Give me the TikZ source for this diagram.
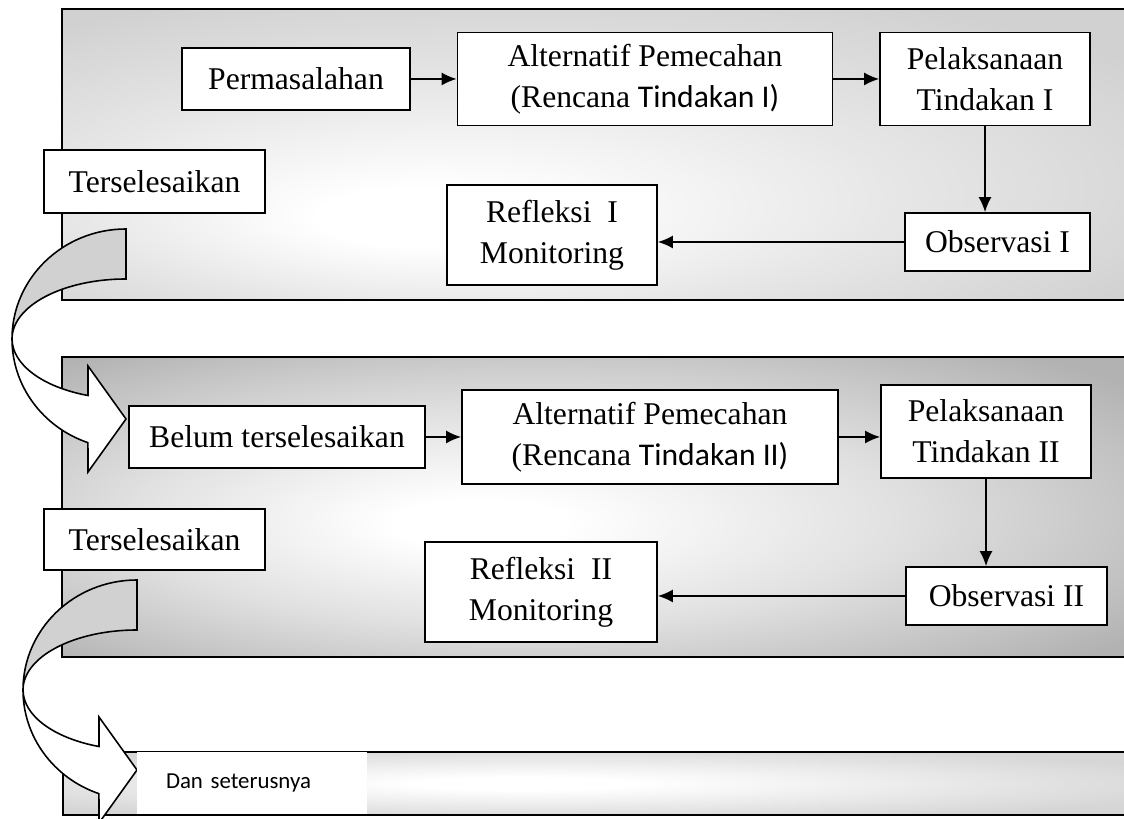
\documentclass[tikz,border=0pt]{standalone}
\usepackage{fontspec}
\setmainfont{Liberation Serif}
\newfontfamily\calibri{Carlito}
\usetikzlibrary{positioning,shapes,arrows,arrows.meta,calc}

% soft grey glow of the three cycle panels
\pgfdeclareradialshading{glowtop}{\pgfpoint{-9bp}{-12bp}}{color(0bp)=(white); color(5bp)=(white); color(20bp)=(black!10); color(34bp)=(black!18); color(50bp)=(black!18)}
\pgfdeclareradialshading{glowmid}{\pgfpoint{-6bp}{-3bp}}{color(0bp)=(white); color(4bp)=(white); color(18bp)=(black!12); color(34bp)=(black!30); color(50bp)=(black!30)}
\pgfdeclareradialshading{glowbot}{\pgfpoint{-4bp}{0bp}}{color(0bp)=(white); color(5bp)=(white); color(30bp)=(black!16); color(50bp)=(black!16)}

\begin{document}
\begin{tikzpicture}[
        box/.style={rectangle, draw, line width=1pt, fill=white, align=center, inner sep=1pt, font=\fontsize{18}{23.5}\selectfont},
        panel/.style={draw, line width=1.1pt},
        arrow/.style={-{Latex[length=0.3cm, width=0.26cm]}, line width=0.9pt},
        backband/.style={draw, line width=0.9pt, fill=black!18},
        frontband/.style={draw, line width=0.9pt, fill=white}
    ]
    \useasboundingbox (0,0) rectangle (22.48,16.38);
    \clip (0,0) rectangle (22.48,16.38);

    % Panels - one per cycle
    \shadedraw[panel, shading=glowtop] (1.24,10.38) rectangle (22.7,16.20);
    \shadedraw[panel, shading=glowmid] (1.24,3.24) rectangle (22.7,9.24);
    \shadedraw[panel, shading=glowbot] (1.26,0.08) rectangle (22.7,1.34);

    % Curved arrows to the next cycle
    \foreach \ax/\ay in {2.52/11.80, 2.74/4.78} {
        \draw[backband, shift={(\ax,\ay)}] (0,0)
            arc[start angle=90, end angle=180, x radius=2.28, y radius=2.2]
            arc[start angle=180, end angle=90, x radius=2.28, y radius=1.2] -- cycle;
        \draw[frontband, shift={(\ax,\ay)}] (-2.28,-2.2)
            arc[start angle=180, end angle=250.5, x radius=2.28, y radius=2.2]
            -- (-0.76,-4.86) -- (0,-3.80) -- (-0.76,-2.74) -- (-0.76,-3.331)
            arc[start angle=250.5, end angle=180, x radius=2.28, y radius=1.2] -- cycle;
    }

    % Cycle I
    \node[box, minimum width=4.56cm, minimum height=1.24cm] (perm) at (5.92,14.80) {Permasalahan};
    \node[box, minimum width=7.50cm, minimum height=1.86cm] (alt1) at (12.90,14.80) {Alternatif Pemecahan\\(Rencana {\calibri Tindakan I)}};
    \node[box, minimum width=4.20cm, minimum height=1.86cm] (pel1) at (19.70,14.80) {Pelaksanaan\\Tindakan I};
    \node[box, minimum width=4.42cm, minimum height=1.26cm] (ters1) at (3.09,12.75) {Terselesaikan};
    \node[box, minimum width=4.20cm, minimum height=2.00cm] (ref1) at (11.04,11.68) {Refleksi \ I\\Monitoring};
    \node[box, minimum width=3.70cm, minimum height=1.16cm] (obs1) at (19.95,11.54) {Observasi I};

    % Cycle II
    \node[box, minimum width=5.92cm, minimum height=1.24cm] (belum) at (5.54,7.64) {Belum terselesaikan};
    \node[box, minimum width=7.52cm, minimum height=1.88cm] (alt2) at (13.00,7.64) {Alternatif Pemecahan\\(Rencana {\calibri Tindakan II)}};
    \node[box, minimum width=4.20cm, minimum height=1.86cm] (pel2) at (19.72,7.75) {Pelaksanaan\\Tindakan II};
    \node[box, minimum width=4.42cm, minimum height=1.22cm] (ters2) at (3.09,5.59) {Terselesaikan};
    \node[box, minimum width=4.64cm, minimum height=2.00cm] (ref2) at (10.82,4.54) {Refleksi \ II\\Monitoring};
    \node[box, minimum width=4.02cm, minimum height=1.16cm] (obs2) at (20.13,4.46) {Observasi II};

    % And so on
    \node[fill=white, minimum height=1.24cm, text width=3.44cm, inner xsep=0.58cm, align=left, font=\calibri\fontsize{13}{15}\selectfont] (dan) at (5.04,0.71) {Dan seterusnya};

    % Flow inside each cycle
    \draw[arrow] (perm.east) -- (perm.east -| alt1.west);
    \draw[arrow] (alt1.east) -- (alt1.east -| pel1.west);
    \draw[arrow] (pel1.south) -- (pel1.south |- obs1.north);
    \draw[arrow] (obs1.west) -- (obs1.west -| ref1.east);

    \draw[arrow] (belum.east) -- (belum.east -| alt2.west);
    \draw[arrow] (alt2.east) -- (alt2.east -| pel2.west);
    \draw[arrow] (pel2.south) -- (pel2.south |- obs2.north);
    \draw[arrow] (obs2.west) -- (obs2.west -| ref2.east);

\end{tikzpicture}
\end{document}
